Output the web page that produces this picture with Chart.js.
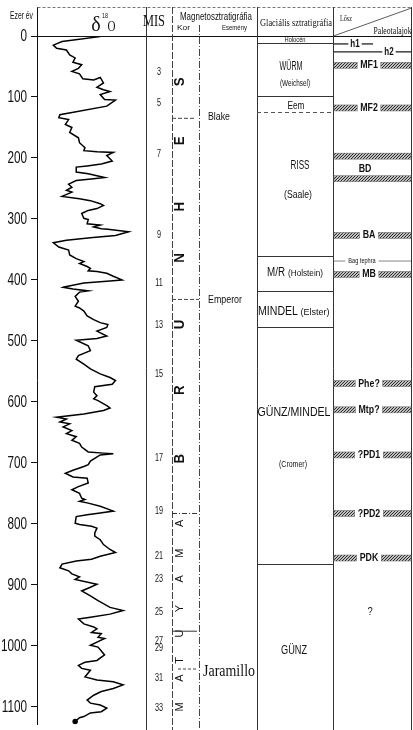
<!DOCTYPE html>
<html>
<head>
<meta charset="utf-8">
<script src="https://cdn.jsdelivr.net/npm/chart.js@4.4.1/dist/chart.umd.min.js"></script>
<style>
  html, body { margin: 0; padding: 0; background: #fff; }
  #wrap { width: 413px; height: 730px; position: relative; }
</style>
</head>
<body>
<div id="wrap"><canvas id="strat"></canvas></div>
<script>
// delta-18O curve: age (ka) and relative position across the plot (0 = left, 100 = right)
const AGE = [1,9,15,20,23,31,36,43,47,53,58,62,70,72,68,77,84,88,91,96,104,105,115,129,134,137,145,150,158,167,175,183,188,190,191,196,205,210,213,215,223,226,232,234,237,243,248,253,256,263,267,270,275,278,283,286,291,299,301,308,310,313,316,317,321,327,331,335,339,346,351,359,365,370,373,378,381,385,386,389,394,400,402,405,411,412,415,418,420,427,435,443,446,451,459,465,470,473,478,484,492,496,499,508,516,524,530,538,546,554,560,565,571,575,584,590,595,598,606,610,614,620,625,628,633,636,641,647,652,657,663,668,674,682,684,685,687,697,703,706,712,717,723,725,733,739,744,750,758,760,763,766,771,777,779,782,785,788,799,801,804,807,815,820,826,834,842,847,853,858,861,866,872,877,882,887,891,899,904,910,918,926,937,942,948,953,956,964,969,972,978,980,986,988,994,999,1002,1015,1024,1027,1032,1037,1040,1051,1056,1059,1064,1070,1075,1081,1089,1094,1097,1102,1108,1110,1116,1118,1124];
const D18O = [58,23,15,18,27,30,35,33,41,38,32,39,42,52,58,61,55,61,67,58,62,72,64,21,20,29,26,32,30,38,39,44,43,55,70,64,69,59,46,36,36,47,62,52,36,29,32,27,32,23,39,49,58,61,55,47,41,43,47,46,58,52,59,65,84,72,49,27,15,20,29,30,36,43,39,46,49,47,55,64,70,78,64,43,26,24,33,47,39,35,38,35,39,43,46,52,58,65,64,55,64,55,36,47,49,38,36,43,49,58,67,72,69,53,52,55,52,56,64,67,61,43,18,27,21,30,24,32,27,36,32,39,41,47,61,70,58,49,47,43,33,26,33,46,47,38,32,39,41,44,39,47,58,67,70,58,46,36,35,39,50,55,53,53,58,61,67,72,58,50,36,23,21,29,32,39,35,55,49,41,49,56,67,79,67,49,38,43,52,55,50,59,56,62,55,49,56,62,55,44,38,41,49,44,55,70,79,70,59,52,46,49,58,64,59,49,43,39,35];
const AGE_TICKS = [0,100,200,300,400,500,600,700,800,900,1000,1100];
const AGE_MAX = 1129;

// MIS (odd stages)
const MIS_NUM = [3,5,7,9,11,13,15,17,19,21,23,25,27,29,31,33];
const MIS_AGE = [60,110,194,327,405,474,555,693,779,853,890,945,993,1004,1053,1102];

// magnetostratigraphy
const BRUNHES = ['S','E','H','N','U','R','B'];
const BRUNHES_AGE = [75,172,280,364,473,581,693];
const MATUYAMA = ['A','M','A','Y','U','T','A','M'];
const MATUYAMA_AGE = [799,848,890,939,980,1024,1053,1100];
const EVENTS = ['Blake','Emperor'];
const EVENT_AGE = [135,432];
const BM_AGE = 783;
const JARAMILLO = 'Jaramillo';
const JARAMILLO_AGE = [976,1038];

// glacial stratigraphy
const GLACIAL_BOUNDS = [11,98,125,360,418,477,866];
const GLACIAL_DASHED = [false,false,true,false,false,false,false];

// loess / palaeosols
const LOESS_NAMES = ['MF1','MF2','BA','MB','Phe?','Mtp?','?PD1','?PD2','PDK'];
const LOESS_AGE = [48,118,327,391,570,613,687,783,856];
const BD_BANDS = [197,234];
const BD_LABEL_AGE = 218;
const H_NAMES = ['h1','h2'];
const H_AGE = [13,26];
const TEPHRA_AGE = 369;
const UNKNOWN_AGE = 945;

const SANS = '"Liberation Sans", Arial, sans-serif';
const SERIF = '"Liberation Serif", "Times New Roman", serif';
const INK = '#111';

function text(ctx, s, cx, cy, size, w, o = {}) {
  ctx.save();
  ctx.font = (o.bold ? 'bold ' : '') + size + 'px ' + (o.serif ? SERIF : SANS);
  ctx.fillStyle = INK;
  ctx.textBaseline = 'middle';
  ctx.textAlign = o.align || 'center';
  const mw = ctx.measureText(s).width;
  const sx = w ? w / mw : (o.sx || 1);
  ctx.translate(cx, cy);
  if (o.rot) ctx.rotate(-Math.PI / 2);
  ctx.scale(sx, 1);
  ctx.fillText(s, 0, 0);
  ctx.restore();
  return mw * sx;
}

function line(ctx, x1, y1, x2, y2, o = {}) {
  ctx.save();
  ctx.strokeStyle = o.color || '#222';
  ctx.lineWidth = o.width || 1;
  ctx.setLineDash(o.dash || []);
  ctx.beginPath();
  ctx.moveTo(x1, y1);
  ctx.lineTo(x2, y2);
  ctx.stroke();
  ctx.restore();
}

let hatch = null;
function band(ctx, x1, x2, yc) {
  if (!hatch) {
    const pc = document.createElement('canvas');
    pc.width = 3; pc.height = 3;
    const p = pc.getContext('2d');
    p.strokeStyle = '#222';
    p.lineWidth = 1.1;
    p.beginPath();
    p.moveTo(0, 3); p.lineTo(3, 0);
    p.moveTo(-1, 1); p.lineTo(1, -1);
    p.moveTo(2, 4); p.lineTo(4, 2);
    p.stroke();
    hatch = ctx.createPattern(pc, 'repeat');
  }
  ctx.save();
  ctx.fillStyle = hatch;
  ctx.fillRect(x1, yc - 3, x2 - x1, 6);
  ctx.strokeStyle = '#666';
  ctx.lineWidth = 0.5;
  ctx.strokeRect(x1, yc - 3, x2 - x1, 6);
  ctx.restore();
}

const columns = {
  id: 'columns',
  afterDraw(chart) {
    const ctx = chart.ctx;
    const ys = chart.scales.y;
    const Y = v => ys.getPixelForValue(v);
    const top = 7, head = Y(0), bot = 730;
    const xPlotR = chart.chartArea.right + 0.5, xAxis = chart.chartArea.left + 0.5;
    const xMis = 172.5, xKor = 199.5, xEv = 257.5, xGl = 333.5, xR = 411.5;

    // frame
    line(ctx, xAxis, top, xAxis, head, { color: INK });
    line(ctx, xAxis, top + 0.5, xR, top + 0.5, { color: '#777', dash: [3, 2] });
    line(ctx, xAxis, head + 0.5, xR, head + 0.5, { color: INK });
    line(ctx, xPlotR, top, xPlotR, bot, { color: '#333' });
    line(ctx, xMis, top, xMis, bot, { color: '#444', dash: [7, 2] });
    line(ctx, xKor, 25, xKor, bot, { color: '#444', dash: [7, 2, 1, 2] });
    line(ctx, xEv, top, xEv, bot, { color: '#333' });
    line(ctx, xGl, top, xGl, bot, { color: '#333' });
    line(ctx, xR, top, xR, bot, { color: '#333' });
    line(ctx, xGl, head, xR, top + 1, { color: '#333', width: 0.8 });

    // y tick labels
    ys.ticks.forEach(t => text(ctx, String(t.value), 27, Y(t.value), 17, null, { sx: 0.69, align: 'right' }));

    // headers
    text(ctx, 'Ezer év', 21.5, 16.5, 10, 23);
    text(ctx, 'δ', 96, 26, 20, null, { serif: true });
    text(ctx, '18', 105, 15.5, 8, 6);
    text(ctx, 'O', 111.5, 27, 14, 8, { serif: true });
    text(ctx, 'MIS', 154, 21.5, 17, 22, { serif: true });
    text(ctx, 'Magnetosztratigráfia', 216, 17, 10, 72);
    text(ctx, 'Kor', 183.5, 27.5, 8, 13);
    text(ctx, 'Esemény', 234.5, 27.5, 8, 25);
    text(ctx, 'Glaciális sztratigráfia', 296, 23, 11, 72, { serif: true });
    text(ctx, 'Lősz', 346, 19, 9, 12, { serif: true });
    text(ctx, 'Paleotalajok', 392.5, 31.5, 10, 38, { serif: true });

    // MIS
    MIS_NUM.forEach((n, i) => text(ctx, String(n), 159, Y(MIS_AGE[i]), 10, null, { sx: 0.72 }));

    // Kor
    BRUNHES.forEach((c, i) => text(ctx, c, 180, Y(BRUNHES_AGE[i]), 14, null, { bold: true, rot: true, sx: 0.95 }));
    MATUYAMA.forEach((c, i) => text(ctx, c, 180, Y(MATUYAMA_AGE[i]), 11, null, { rot: true }));
    line(ctx, 172, Y(EVENT_AGE[0]), 195, Y(EVENT_AGE[0]), { color: '#444', dash: [4, 2] });
    line(ctx, 172, Y(EVENT_AGE[1]), 199, Y(EVENT_AGE[1]), { color: '#444', dash: [4, 2] });
    line(ctx, 172, Y(BM_AGE), 199, Y(BM_AGE), { color: '#333', dash: [5, 2, 1, 2] });
    line(ctx, 172, Y(JARAMILLO_AGE[0]), 197, Y(JARAMILLO_AGE[0]), { color: '#333' });
    line(ctx, 178, Y(JARAMILLO_AGE[1]), 197, Y(JARAMILLO_AGE[1]), { color: '#444', dash: [3, 2] });

    // Esemeny
    text(ctx, EVENTS[0], 208, Y(EVENT_AGE[0]) - 1, 11, 22, { align: 'left' });
    text(ctx, EVENTS[1], 208, Y(EVENT_AGE[1]) + 1, 11, 34, { align: 'left' });
    text(ctx, JARAMILLO, 203, Y(JARAMILLO_AGE[1]) + 3, 16, 52, { serif: true, align: 'left' });

    // glacial
    GLACIAL_BOUNDS.forEach((b, i) => {
      const yy = Math.round(Y(b)) + 0.5;
      line(ctx, 257, yy, 333, yy, GLACIAL_DASHED[i] ? { color: '#555', dash: [4, 3] } : { color: '#333' });
    });
    text(ctx, 'Holocén', 295, 40, 7, 21);
    text(ctx, 'WÜRM', 291, 67, 12, 23);
    text(ctx, '(Weichsel)', 295, 84, 9, 30);
    text(ctx, 'Eem', 296, 106, 10, 17);
    text(ctx, 'RISS', 300, 165, 13, 19);
    text(ctx, '(Saale)', 298, 195, 10, 28);
    text(ctx, 'M/R', 276, 273, 12, 18);
    text(ctx, '(Holstein)', 305.5, 274, 9, 35);
    text(ctx, 'MINDEL', 278, 312, 12, 40);
    text(ctx, '(Elster)', 315, 313, 9, 29);
    text(ctx, 'GÜNZ/MINDEL', 294, 412, 13, 73);
    text(ctx, '(Cromer)', 293, 465, 9, 28);
    text(ctx, 'GÜNZ', 294, 650, 13, 26);

    // loess / palaeosols
    const lx = 369;
    H_NAMES.forEach((h, i) => {
      const yy = Y(H_AGE[i]);
      const cx = i === 0 ? 355 : 389;
      const w = text(ctx, h, cx, yy, 10, null, { bold: true, sx: 0.8 });
      line(ctx, 334, yy, cx - w / 2 - 2, yy, { color: '#222', width: 1.3 });
      line(ctx, cx + w / 2 + 2, yy, i === 0 ? 373 : 411, yy, { color: '#222', width: 1.3 });
    });
    LOESS_NAMES.forEach((n, i) => {
      const yy = Y(LOESS_AGE[i]);
      const w = text(ctx, n, lx, yy, 11, null, { bold: true, sx: 0.8 });
      band(ctx, 334, lx - w / 2 - 3, yy);
      band(ctx, lx + w / 2 + 3, 411, yy);
    });
    BD_BANDS.forEach(a => band(ctx, 334, 411, Y(a)));
    text(ctx, 'BD', 365, Y(BD_LABEL_AGE), 11, null, { bold: true, sx: 0.8 });
    const ty = Y(TEPHRA_AGE);
    const tw = text(ctx, 'Bag tephra', 362, ty, 7, null, { sx: 0.8 });
    line(ctx, 334, ty, 362 - tw / 2 - 3, ty, { color: '#555', width: 0.7 });
    line(ctx, 362 + tw / 2 + 3, ty, 411, ty, { color: '#555', width: 0.7 });
    text(ctx, '?', 370, Y(UNKNOWN_AGE), 11, null, { sx: 0.85 });
  }
};

new Chart('strat', {
  type: 'scatter',
  data: {
    datasets: [{
      data: AGE.map((a, i) => ({ x: D18O[i], y: a })),
      showLine: true,
      borderColor: '#000',
      borderWidth: 1.5,
      pointRadius: c => (c.dataIndex === AGE.length - 1 ? 2 : 0),
      pointBackgroundColor: '#000',
      tension: 0
    }]
  },
  options: {
    responsive: true,
    maintainAspectRatio: false,
    animation: false,
    events: [],
    layout: { padding: { top: 36, right: 267, bottom: 0, left: 0 } },
    plugins: { legend: { display: false }, tooltip: { enabled: false } },
    scales: {
      x: { type: 'linear', min: 0, max: 100, display: false },
      y: {
        type: 'linear',
        reverse: true,
        min: 0,
        max: AGE_MAX,
        afterFit: s => { s.width = 37; },
        afterBuildTicks: s => { s.ticks = AGE_TICKS.map(v => ({ value: v })); },
        ticks: { display: false },
        grid: { drawOnChartArea: false, drawTicks: true, tickLength: 6, color: INK },
        border: { display: true, color: INK }
      }
    }
  },
  plugins: [columns]
});
</script>
</body>
</html>
